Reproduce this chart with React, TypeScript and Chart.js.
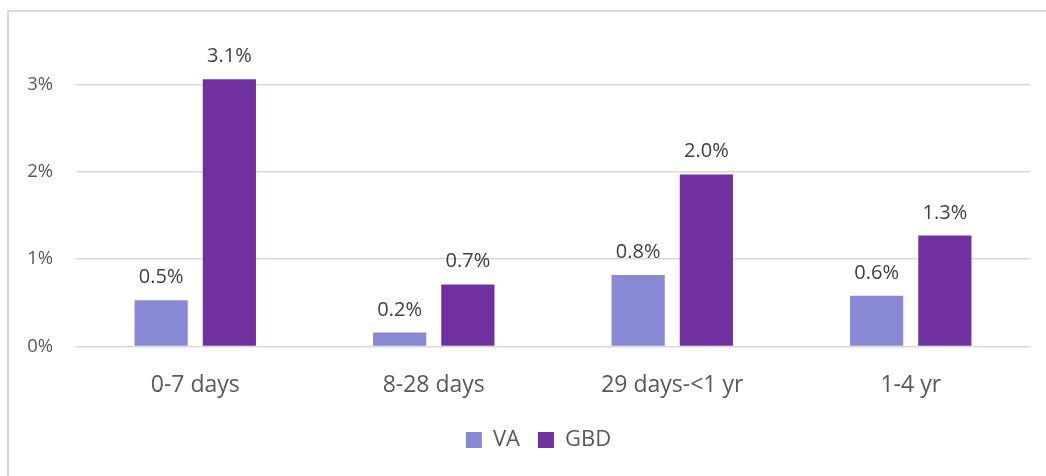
import React, { useEffect, useRef } from "react";
import { Chart, registerables } from "chart.js";

Chart.register(...registerables);

const categories = ["0-7 days", "8-28 days", "29 days-<1 yr", "1-4 yr"];
const vaValues = [0.53, 0.16, 0.82, 0.58];
const gbdValues = [3.06, 0.71, 1.97, 1.27];
const yTicks = [0, 1, 2, 3];

const FONT = "'Open Sans', 'DejaVu Sans', sans-serif";
const TEXT = "#595959";

const dataLabelPlugin = {
  id: "dataLabels",
  afterDatasetsDraw(chart: any) {
    const ctx = chart.ctx;
    ctx.save();
    ctx.font = `20px ${FONT}`;
    ctx.fillStyle = "#404040";
    ctx.textAlign = "center";
    ctx.textBaseline = "alphabetic";
    chart.data.datasets.forEach((ds: any, i: number) => {
      const meta = chart.getDatasetMeta(i);
      meta.data.forEach((el: any, j: number) => {
        const v = ds.data[j] as number;
        ctx.fillText(v.toFixed(1) + "%", el.x, el.y - 17);
      });
    });
    ctx.restore();
  },
};

const legendShiftPlugin = {
  id: "legendShift",
  afterLayout(chart: any) {
    const lg = chart.legend;
    if (lg) {
      lg.left += 19;
      lg.right += 19;
    }
  },
};

export default function App() {
  const ref = useRef<HTMLCanvasElement>(null);
  useEffect(() => {
    if (!ref.current) return;
    const chart = new Chart(ref.current, {
      type: "bar",
      data: {
        labels: categories,
        datasets: [
          { label: "VA", data: vaValues, backgroundColor: "#8988d5" },
          { label: "GBD", data: gbdValues, backgroundColor: "#7030a0" },
        ],
      },
      options: {
        responsive: false,
        animation: false,
        layout: { padding: { left: 0, right: 16, top: 29, bottom: 15 } },
        datasets: { bar: { categoryPercentage: 0.572, barPercentage: 0.78 } },
        scales: {
          x: {
            grid: { display: false },
            border: { display: false },
            ticks: {
              color: TEXT,
              font: { family: FONT, size: 23 },
              padding: 17,
              maxRotation: 0,
            },
            afterFit: (s: any) => {
              s.height = 64.5;
            },
          },
          y: {
            min: 0,
            max: 3.44,
            grid: { color: "#d9d9d9", lineWidth: 1.5, drawTicks: false },
            border: { display: false },
            afterBuildTicks: (axis: any) => {
              axis.ticks = yTicks.map((v) => ({ value: v }));
            },
            ticks: {
              color: TEXT,
              font: { family: FONT, size: 18.5 },
              padding: 23,
              callback: (v: any) => v + "%",
            },
            afterFit: (s: any) => {
              s.width = 67;
            },
          },
        },
        plugins: {
          legend: {
            position: "bottom",
            labels: {
              color: TEXT,
              font: { family: FONT, size: 22 },
              boxWidth: 16,
              boxHeight: 16,
              padding: 18,
            },
          },
          tooltip: { enabled: false },
        },
      },
      plugins: [dataLabelPlugin, legendShiftPlugin],
    });
    return () => chart.destroy();
  }, []);

  return (
    <div
      style={{
        position: "absolute",
        left: 7,
        top: 10,
        width: 1039,
        height: 466,
        borderTop: "2px solid #d9d9d9",
        borderLeft: "2px solid #d9d9d9",
        background: "#fff",
        overflow: "hidden",
      }}
    >
      <canvas ref={ref} width={1037} height={464} style={{ display: "block" }} />
    </div>
  );
}
